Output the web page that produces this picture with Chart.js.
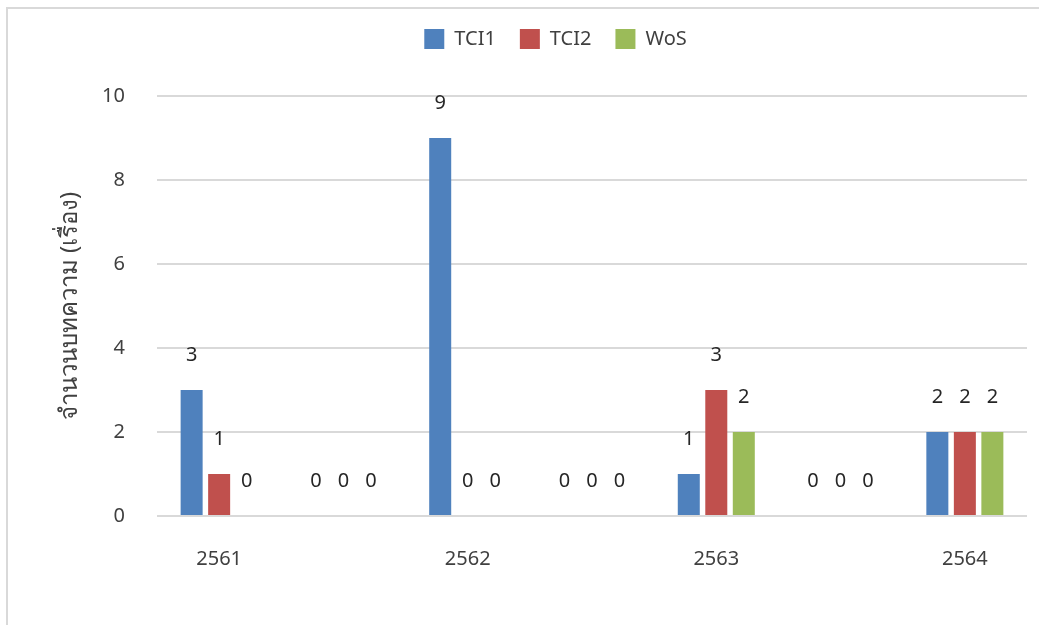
<!DOCTYPE html>
<html>
<head>
<meta charset="utf-8">
<script src="https://cdn.jsdelivr.net/npm/chart.js@4.4.0/dist/chart.umd.min.js"></script>
<style>
    body { margin: 0; background: #fff; overflow: hidden; }
    #frame {
        position: absolute; left: 6px; top: 7px; width: 1200px; height: 800px;
        border: 2px solid #d9d9d9;
    }
    #wrap { position: absolute; left: 0; top: 0; width: 1039px; height: 625px; }
</style>
</head>
<body>
<div id="frame"></div>
<div id="wrap"><canvas id="chart"></canvas></div>
<script>
const years = ['2561', '', '2562', '', '2563', '', '2564'];
const tci1 = [3, 0, 9, 0, 1, 0, 2];
const tci2 = [1, 0, 0, 0, 3, 0, 2];
const wos = [0, 0, 0, 0, 2, 0, 2];
const yTitle = 'จำนวนบทความ (เรื่อง)';

const font = '"Noto Sans", "Open Sans", sans-serif';
const textColor = '#404040';

// draws the value above each bar
const valueLabels = {
    id: 'valueLabels',
    afterDatasetsDraw(chart) {
        const ctx = chart.ctx;
        ctx.save();
        ctx.font = '20px ' + font;
        ctx.fillStyle = '#262626';
        ctx.textAlign = 'center';
        ctx.textBaseline = 'middle';
        chart.data.datasets.forEach((ds, i) => {
            chart.getDatasetMeta(i).data.forEach((bar, j) => {
                ctx.fillText(ds.data[j], bar.x, bar.y - 35);
            });
        });
        ctx.restore();
    }
};

// legend sizing / offset like the original
const legendTweak = {
    id: 'legendTweak',
    beforeLayout(chart) {
        const lg = chart.legend;
        if (lg && !lg._tweaked) {
            const fit = lg.fit;
            lg.fit = function () { fit.call(this); this.height = 91; };
            lg._tweaked = true;
        }
    },
    afterLayout(chart) {
        chart.legend.left += 42;
        chart.legend.right += 42;
    }
};

new Chart(document.getElementById('chart'), {
    type: 'bar',
    data: {
        labels: years,
        datasets: [
            { label: 'TCI1', data: tci1, backgroundColor: '#4f81bd' },
            { label: 'TCI2', data: tci2, backgroundColor: '#c0504d' },
            { label: 'WoS', data: wos, backgroundColor: '#9bbb59' },
        ]
    },
    options: {
        responsive: true,
        maintainAspectRatio: false,
        animation: false,
        datasets: { bar: { categoryPercentage: 0.664, barPercentage: 0.8 } },
        layout: { padding: { top: 5, right: 12, left: 0, bottom: 0 } },
        plugins: {
            legend: {
                position: 'top',
                labels: {
                    boxWidth: 20,
                    boxHeight: 20,
                    padding: 24,
                    color: textColor,
                    font: { family: font, size: 20 }
                }
            },
            tooltip: { enabled: false }
        },
        scales: {
            x: {
                grid: { display: false, drawTicks: false },
                border: { display: false },
                ticks: {
                    autoSkip: false,
                    maxRotation: 0,
                    padding: 31,
                    color: textColor,
                    font: { family: font, size: 20 }
                },
                afterFit(scale) { scale.height = 109; }
            },
            y: {
                min: 0,
                max: 10,
                grid: { color: '#d9d9d9', lineWidth: 2, drawTicks: false },
                border: { display: false },
                ticks: {
                    stepSize: 2,
                    padding: 32,
                    color: textColor,
                    font: { family: font, size: 20 }
                },
                title: {
                    display: true,
                    text: yTitle,
                    color: textColor,
                    padding: { top: 56, bottom: 0 },
                    font: { family: font, size: 24 }
                },
                afterFit(scale) { scale.width = 157; }
            }
        }
    },
    plugins: [valueLabels, legendTweak]
});
</script>
</body>
</html>
